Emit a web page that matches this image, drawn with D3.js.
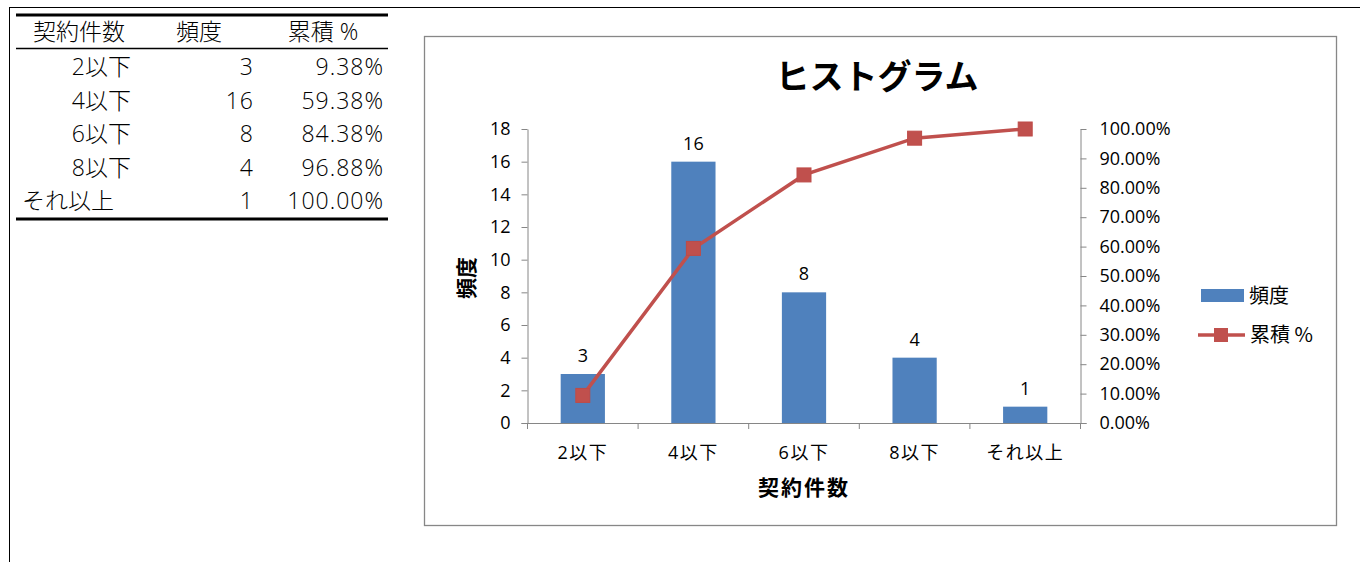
<!DOCTYPE html>
<meta charset="utf-8">
<head>
<style>
  body { margin: 0; background: #fff; }
  svg { font-family: "Noto Sans CJK JP", "Open Sans", sans-serif; }
  .tbl text { font-family: "Open Sans", "Noto Sans CJK JP", sans-serif; font-size: 23px; font-weight: 300; fill: #000; }
  .tbl text.num { letter-spacing: 1px; }
  .axis text { font-family: "Open Sans", "Noto Sans CJK JP", sans-serif; font-size: 18px; fill: #000; }
  .axis path, .axis line { stroke: #868686; }
</style>
</head>
<body>
<div id="content"></div>
<script src="https://d3js.org/d3.v7.min.js"></script>
<script>

var categories = ["2以下", "4以下", "6以下", "8以下", "それ以上"];
var freq = [3, 16, 8, 4, 1];
var cumPct = [9.38, 59.38, 84.38, 96.88, 100.00];
var leftTicks = [0, 2, 4, 6, 8, 10, 12, 14, 16, 18];
var rightTicks = [0, 10, 20, 30, 40, 50, 60, 70, 80, 90, 100];

var svg = d3.select("#content").append("svg")
  .attr("width", 1360).attr("height", 562);

// sheet frame lines
svg.append("line").attr("x1", 9.5).attr("x2", 9.5).attr("y1", 7).attr("y2", 562).attr("stroke", "#000").attr("stroke-width", 1);
svg.append("line").attr("x1", 9).attr("x2", 1360).attr("y1", 7.5).attr("y2", 7.5).attr("stroke", "#000").attr("stroke-width", 1);

// ---- table ----
var tbl = svg.append("g").attr("class", "tbl");
tbl.append("line").attr("x1", 16).attr("x2", 388).attr("y1", 15).attr("y2", 15).attr("stroke", "#000").attr("stroke-width", 3);
tbl.append("line").attr("x1", 16).attr("x2", 388).attr("y1", 48.5).attr("y2", 48.5).attr("stroke", "#000").attr("stroke-width", 1.5);
tbl.append("line").attr("x1", 16).attr("x2", 388).attr("y1", 219).attr("y2", 219).attr("stroke", "#000").attr("stroke-width", 3);

tbl.append("text").attr("x", 79).attr("y", 40).attr("text-anchor", "middle").text("契約件数");
tbl.append("text").attr("x", 199).attr("y", 40).attr("text-anchor", "middle").text("頻度");
tbl.append("text").attr("x", 323).attr("y", 40).attr("text-anchor", "middle").text("累積 %");

categories.forEach(function(c, i) {
  var ty = 75 + i * 33.5;
  var last = i === categories.length - 1;
  tbl.append("text").attr("x", last ? 22 : 131).attr("y", ty)
    .attr("text-anchor", last ? "start" : "end").text(c);
  tbl.append("text").attr("class", "num").attr("x", 254).attr("y", ty).attr("text-anchor", "end").text(freq[i]);
  tbl.append("text").attr("class", "num").attr("x", 384).attr("y", ty).attr("text-anchor", "end").text(cumPct[i].toFixed(2) + "%");
});

// ---- chart ----
svg.append("rect").attr("x", 424.5).attr("y", 36.5).attr("width", 912).attr("height", 489)
  .attr("fill", "#fff").attr("stroke", "#878787").attr("stroke-width", 1.3);

svg.append("text").attr("x", 877).attr("y", 89).attr("text-anchor", "middle")
  .style("font-size", "34px").style("font-weight", "bold").text("ヒストグラム");

var plotL = 527.5, plotR = 1080.5, plotT = 129, plotB = 423;

var x = d3.scaleBand().domain(categories).range([plotL, plotR]).paddingInner(0).paddingOuter(0);
var y = d3.scaleLinear().domain([0, 18]).range([plotB, plotT]);
var y2 = d3.scaleLinear().domain([0, 100]).range([plotB, plotT]);

// axes
svg.append("g").attr("class", "axis").attr("transform", "translate(" + plotL + ",0)")
  .call(d3.axisLeft(y).tickValues(leftTicks).tickSize(6).tickSizeOuter(0).tickPadding(11));
svg.append("g").attr("class", "axis").attr("transform", "translate(" + plotR + ",0)")
  .call(d3.axisRight(y2).tickValues(rightTicks).tickSize(6).tickSizeOuter(0).tickPadding(13)
    .tickFormat(function(d) { return d.toFixed(2) + "%"; }));

// bars
var bw = x.bandwidth() / 2.5;
svg.selectAll("rect.bar").data(freq).enter().append("rect")
  .attr("class", "bar")
  .attr("x", function(d, i) { return x(categories[i]) + x.bandwidth() / 2 - bw / 2; })
  .attr("y", function(d) { return y(d); })
  .attr("width", bw)
  .attr("height", function(d) { return plotB - y(d); })
  .attr("fill", "#4F81BD");

// x axis (drawn over bars)
var gx = svg.append("g").attr("class", "axis").attr("transform", "translate(0," + plotB + ")");
gx.append("line").attr("x1", plotL - 6).attr("x2", plotR + 6).attr("y1", 0.5).attr("y2", 0.5).attr("stroke", "#868686");
var bounds = d3.range(categories.length + 1).map(function(i) { return plotL + i * x.bandwidth(); });
gx.selectAll("line.tk").data(bounds).enter().append("line").attr("class", "tk")
  .attr("x1", function(d) { return d; }).attr("x2", function(d) { return d; })
  .attr("y1", 0).attr("y2", 6).attr("stroke", "#868686");
gx.selectAll("text").data(categories).enter().append("text")
  .attr("x", function(d) { return x(d) + x.bandwidth() / 2; })
  .attr("y", 36).attr("text-anchor", "middle")
  .style("font-size", "18px").style("letter-spacing", "1.5px")
  .text(function(d) { return d; });

// data labels
svg.selectAll("text.dl").data(freq).enter().append("text").attr("class", "dl")
  .attr("x", function(d, i) { return x(categories[i]) + x.bandwidth() / 2; })
  .attr("y", function(d) { return y(d) - 12; })
  .attr("text-anchor", "middle")
  .style("font-family", "'Open Sans', sans-serif").style("font-size", "18px")
  .text(function(d) { return d; });

// cumulative line
var line = d3.line()
  .x(function(d, i) { return x(categories[i]) + x.bandwidth() / 2; })
  .y(function(d) { return y2(d); });
svg.append("path").datum(cumPct).attr("d", line)
  .attr("fill", "none").attr("stroke", "#C0504D").attr("stroke-width", 3.5);
svg.selectAll("rect.mk").data(cumPct).enter().append("rect").attr("class", "mk")
  .attr("x", function(d, i) { return x(categories[i]) + x.bandwidth() / 2 - 7; })
  .attr("y", function(d) { return y2(d) - 7; })
  .attr("width", 14).attr("height", 14)
  .attr("fill", "#C0504D").attr("stroke", "#BE4B48").attr("stroke-width", 1);

// axis titles
svg.append("text").attr("x", 804).attr("y", 495).attr("text-anchor", "middle")
  .style("font-size", "21px").style("font-weight", "bold").style("letter-spacing", "2px").text("契約件数");
svg.append("text").attr("transform", "translate(474,278) rotate(-90)").attr("text-anchor", "middle")
  .style("font-size", "21px").style("font-weight", "bold").text("頻度");

// legend
var lg = svg.append("g");
lg.append("rect").attr("x", 1201).attr("y", 289).attr("width", 43).attr("height", 13).attr("fill", "#4F81BD");
lg.append("text").attr("x", 1249).attr("y", 303).style("font-size", "20px").text("頻度");
lg.append("line").attr("x1", 1198).attr("x2", 1245).attr("y1", 335).attr("y2", 335)
  .attr("stroke", "#C0504D").attr("stroke-width", 3.5);
lg.append("rect").attr("x", 1214).attr("y", 328).attr("width", 14).attr("height", 14).attr("fill", "#C0504D");
lg.append("text").attr("x", 1250).attr("y", 342).style("font-size", "20px").text("累積 %");

</script>
</body>
</html>
